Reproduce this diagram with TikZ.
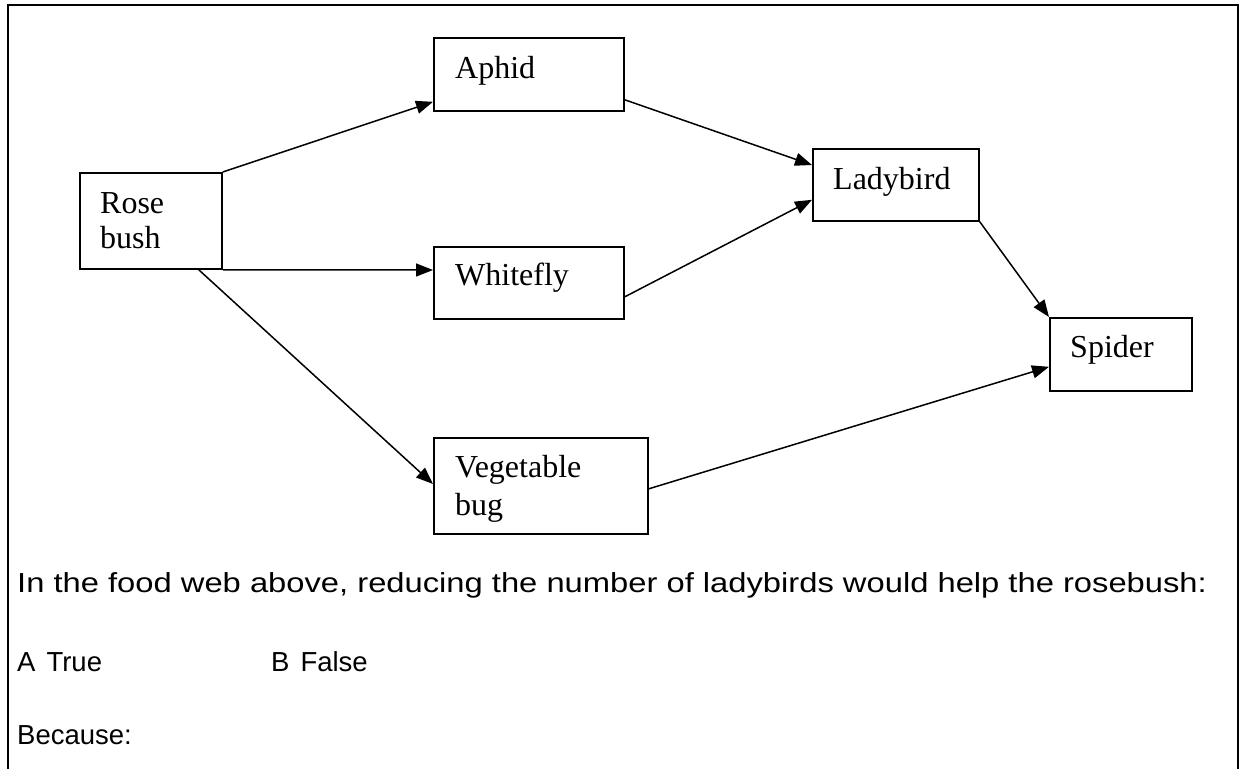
\documentclass[tikz,border=0pt]{standalone}
\usepackage{fontspec}
\setmainfont{Liberation Serif}
\newfontfamily\qfont{Liberation Sans}
\usetikzlibrary{arrows.meta}
\begin{document}
\begin{tikzpicture}[x=1pt,y=-1pt,
  box/.style={draw, line width=1.8pt, rectangle, inner sep=0pt, anchor=north west},
  lbl/.style={anchor=base west, inner sep=0pt, font=\fontsize{32}{36}\selectfont},
  feed/.style={line width=1.5pt, -{Triangle[length=17pt,width=13pt]}},
  qtext/.style={anchor=base west, inner sep=0pt, font=\qfont\fontsize{27.5}{32}\selectfont}]
  \useasboundingbox (0,0) rectangle (1244,769);
  % frame round the question
  \draw[line width=1.8pt] (8,769) -- (8,5) -- (1238,5) -- (1238,769);

  % organisms
  \node[box, minimum width=142pt, minimum height=96pt] (rose)  at (79,172)   {};
  \node[box, minimum width=190pt, minimum height=73pt] (aphid) at (433,37)   {};
  \node[box, minimum width=190pt, minimum height=72pt] (white) at (433,246)  {};
  \node[box, minimum width=214pt, minimum height=96pt] (veg)   at (433,437)  {};
  \node[box, minimum width=166pt, minimum height=72pt] (lady)  at (812,148)  {};
  \node[box, minimum width=142pt, minimum height=73pt] (spider) at (1049,317) {};

  \node[lbl] (roseA) at (100,213) {Rose};
  \node[lbl] (roseB) at (100,248) {bush};
  \node[lbl] (aphidT) at (455,78) {Aphid};
  \node[lbl] (whiteT) at (455,285) {Whitefly};
  \node[lbl] (vegA) at (455,477) {Vegetable};
  \node[lbl] (vegB) at (455,515) {bug};
  \node[lbl] (ladyT) at (833,189) {Ladybird};
  \node[lbl] (spiderT) at (1070,357) {Spider};

  % feeding links
  \draw[feed] (rose.north east) -- ([yshift=10pt]aphid.south west);
  \draw[feed] (rose.south east) -- ([yshift=-24pt]white.north west);
  \draw[feed] ([xshift=-24pt]rose.south east) -- ([yshift=-47pt]veg.north west);
  \draw[feed] ([yshift=12pt]aphid.south east) -- ([yshift=-17pt]lady.north west);
  \draw[feed] ([yshift=23pt]white.south east) -- ([yshift=22pt]lady.south west);
  \draw[feed] (lady.south east) -- (spider.north west);
  \draw[feed] ([yshift=46pt]veg.south east) -- ([yshift=25pt]spider.south west);

  % question
  \node[qtext] (q1) at (17,592) {\scalebox{1.19}[1]{In the food web above, reducing the number of ladybirds would help the rosebush:}};
  \node[qtext] (q2) at (17,671) {A\hspace{11pt}True};
  \node[qtext] (q3) at (271,671) {B\hspace{11pt}False};
  \node[qtext] (q4) at (17,744) {Because:};
\end{tikzpicture}
\end{document}
